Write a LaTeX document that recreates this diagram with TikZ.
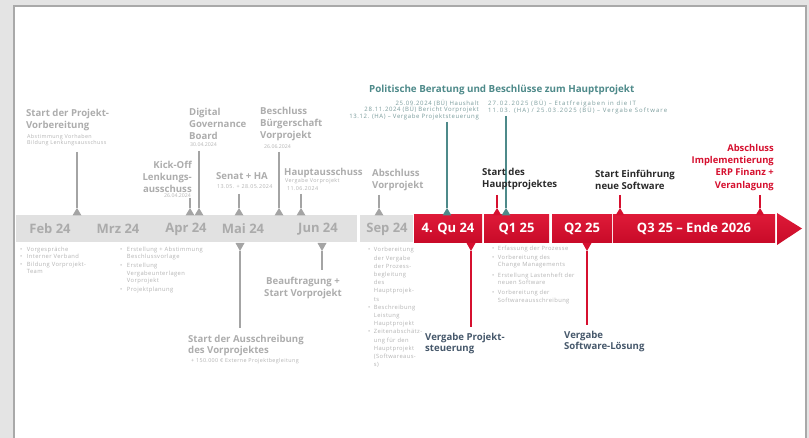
\documentclass[tikz,border=0pt]{standalone}
\usepackage{fontspec}
\setmainfont{Open Sans}
\newfontfamily\tinyfont[LetterSpace=7]{Open Sans}
\newfontfamily\tinymid[LetterSpace=10]{Open Sans}
\newfontfamily\tinywide[LetterSpace=18]{Open Sans}
\definecolor{bgc}{HTML}{E4E4E4}
\definecolor{framec}{HTML}{A9A9A9}
\definecolor{lblgray}{HTML}{ADADAD}
\definecolor{smlgray}{HTML}{B4B4B4}
\definecolor{linegray}{HTML}{A4A4A4}
\definecolor{barg}{HTML}{E1E1E1}
\definecolor{bartext}{HTML}{ABABAB}
\definecolor{tealc}{HTML}{4E8A8A}
\definecolor{tealsm}{HTML}{7A9C9C}
\definecolor{redc}{HTML}{D6102F}
\definecolor{redtop}{HTML}{DE1A38}
\definecolor{redbot}{HTML}{C80A28}
\definecolor{darkc}{HTML}{2A2A2A}
\definecolor{slatec}{HTML}{46586B}
\newcommand{\fsz}[2]{\fontsize{#1}{#2}\selectfont}
\tikzset{
  lbl/.style={inner sep=0pt, font=\fsz{9.6}{12}\bfseries, text=lblgray, align=left},
  sml/.style={inner sep=0pt, font=\tinyfont\fsz{5.4}{6}, text=smlgray, align=left},
  bl/.style={inner sep=0pt, font=\tinyfont\fsz{5.8}{7.5}, text=smlgray},
  barlbl/.style={inner sep=0pt, font=\fsz{13}{15}\bfseries, text=bartext},
  redbox/.style={inner sep=0pt, top color=redtop, bottom color=redbot, text=white, font=\fsz{13}{15}\bfseries, minimum height=28pt},
  graybox/.style={inner sep=0pt, fill=barg, minimum height=27pt},
}
\begin{document}
\begin{tikzpicture}[x=1pt,y=-1pt]
\useasboundingbox (0,0) rectangle (809,438);
\fill[bgc] (0,0) rectangle (809,438);
\draw[fill=white, draw=framec, line width=2pt] (14,6) rectangle (806,470);

% ---- timeline bar
\node[graybox, minimum width=341pt] (past) at (186.5,228.5) {};
\node[graybox, minimum width=53pt] (sep) at (386.5,228.5) {};
\node[barlbl] (lfeb) at (50,229) {Feb 24};
\node[barlbl] (lmrz) at (118,229) {Mrz 24};
\node[barlbl] (lapr) at (186,229) {Apr 24};
\node[barlbl] (lmai) at (243,229) {Mai 24};
\node[barlbl] (ljun) at (318,229) {Jun 24};
\node[barlbl] (lsep) at (387,229) {Sep 24};
\node[redbox, minimum width=68pt] (q4) at (448,229) {4. Qu 24};
\node[redbox, minimum width=65pt] (q1) at (516.5,229) {Q1 25};
\node[redbox, minimum width=60pt] (q2) at (582,229) {Q2 25};
\node[redbox, minimum width=162pt] (q3) at (694,229) {Q3 25 – Ende 2026};
\coordinate (arA) at (777,213);
\coordinate (arB) at (802,228.5);
\coordinate (arC) at (777,245);
\shade[top color=redtop, bottom color=redbot] (arA) -- (arB) -- (arC) -- cycle;

% ---- markers above the bar
\foreach \n/\x/\yt/\c in {mA/77/152/linegray, mB/190/198/linegray, mC/199/151/linegray,
  mD/239/194/linegray, mE/279/152/linegray, mF/301/194/linegray, mG/379/195/linegray,
  mH/447/122/tealc, mI/506/116/tealc, mJ/497/195/redc, mK/620/195/redc, mL/760/195/redc}
{
  \coordinate (\n t) at (\x,\yt);
  \coordinate (\n) at (\x,208);
  \draw[line width=1.4pt, draw=\c] (\n t) -- (\n);
  \fill[\c] (\n) -- ++(-4.5,7.5) -- ++(9,0) -- cycle;
}
% ---- markers below the bar
\foreach \n/\x/\yb/\c in {dA/240/328/linegray, dB/322/270/linegray, dC/471/327/redc, dD/587/325/redc}
{
  \coordinate (\n) at (\x,251);
  \coordinate (\n b) at (\x,\yb);
  \draw[line width=1.4pt, draw=\c] (\n) -- (\n b);
  \fill[\c] (\n) -- ++(-4.5,-8) -- ++(9,0) -- cycle;
}

% ---- labels above
\node[lbl, anchor=north west] (tA) at (26,109) {Start der Projekt-\\Vorbereitung};
\node[sml, anchor=north west] (sA) at (27,134.5) {Abstimmung Vorhaben\\Bildung Lenkungsausschuss};
\node[lbl, anchor=north east, align=right] (tB) at (192,160.5) {Kick-Off\\Lenkungs-\\ausschuss};
\node[sml, anchor=north east, align=right, font=\fsz{5.2}{6}] (sB) at (191,193.5) {26.04.2024};
\node[lbl, anchor=north west] (tC) at (189,108.5) {Digital\\Governance\\Board};
\node[sml, anchor=north west, font=\fsz{5.2}{6}] (sC) at (190,142.5) {30.04.2024};
\node[lbl, anchor=north west] (tD) at (216,172.5) {Senat + HA};
\node[sml, anchor=north west] (sD) at (217,184.5) {13.05. + 28.05.2024};
\node[lbl, anchor=north west] (tE) at (260,107.5) {Beschluss\\Bürgerschaft\\Vorprojekt};
\node[sml, anchor=north west, font=\fsz{5.2}{6}] (sE) at (264,144.5) {26.06.2024};
\node[lbl, anchor=north west] (tF) at (284,168) {Hauptausschuss};
\node[sml, anchor=north west, font=\tinyfont\fsz{5.4}{8}] (sF) at (285,178.5) {Vergabe Vorprojekt\\\hspace*{2pt}11.06.2024};
\node[lbl, anchor=north west] (tG) at (372,169.5) {Abschluss\\Vorprojekt};

\node[anchor=north west, inner sep=0pt, font=\fsz{9.8}{12}\bfseries, text=tealc] (tP) at (369,84.5) {Politische Beratung und Beschlüsse zum Hauptprojekt};
\node[sml, anchor=north east, align=right, text=tealsm, font=\tinymid\fsz{6}{6.6}] (sP1) at (479,99.5) {25.09.2024 (BÜ) Haushalt\\28.11.2024 (BÜ) Bericht Vorprojekt\\13.12. (HA) – Vergabe Projektsteuerung};
\node[sml, anchor=north west, text=tealsm, font=\tinywide\fsz{6}{6.6}] (sP2) at (488,99.5) {27.02.2025 (BÜ) – Etatfreigaben in die IT\\11.03. (HA) / 25.03.2025 (BÜ) – Vergabe Software};

\node[lbl, text=darkc, anchor=north west] (tJ) at (482,168.5) {Start des\\Hauptprojektes};
\node[lbl, text=darkc, anchor=north west] (tK) at (595,169.5) {Start Einführung\\neue Software};
\node[lbl, text=redc, anchor=north east, align=right, font=\fsz{9.4}{12.3}\bfseries] (tL) at (774,144) {Abschluss\\Implementierung\\ERP Finanz +\\Veranlagung};

% ---- labels below
\node[lbl, anchor=north west, font=\fsz{9.6}{11}\bfseries] (tdA) at (188,335) {Start der Ausschreibung\\des Vorprojektes};
\node[sml, anchor=north west] (sdA) at (191,358.5) {+ 150.000 € Externe Projektbegleitung};
\node[lbl, anchor=north, align=center] (tdB) at (303,276.5) {Beauftragung +\\Start Vorprojekt};
\node[lbl, text=slatec, anchor=north west, font=\fsz{9.6}{11.5}\bfseries] (tdC) at (425,333) {Vergabe Projekt-\\steuerung};
\node[lbl, text=slatec, anchor=north west, font=\fsz{9.6}{11.5}\bfseries] (tdD) at (564,331) {Vergabe\\Software-Lösung};

% ---- bullet lists
\node[bl, anchor=north west] (bFeb) at (20,246) {\begin{tabular}{@{}l@{\hspace{4.5pt}}l@{}}
•&Vorgespräche\\ •&Interner Verband\\ •&Bildung Vorprojekt-\\ &Team\end{tabular}};
\node[bl, anchor=north west] (bMrz) at (120,246) {\begin{tabular}{@{}l@{\hspace{4.5pt}}l@{}}
•&Erstellung + Abstimmung\\ &Beschlussvorlage\\[1.5pt] •&Erstellung\\ &Vergabeunterlagen\\ &Vorprojekt\\[1.5pt] •&Projektplanung\end{tabular}};
\node[bl, anchor=north west, font=\tinyfont\fsz{5.8}{8.2}] (bSep) at (368,246) {\begin{tabular}{@{}l@{\hspace{3.5pt}}l@{}}
•&Vorbereitung\\ &der Vergabe\\ &der Prozess-\\ &begleitung\\ &des\\ &Hauptprojek-\\ &ts\\ •&Beschreibung\\ &Leistung\\ &Hauptprojekt\\ •&Zeitenabschätz-\\ &ung für den\\ &Hauptprojekt\\ &(Softwareaus-\\ &s)\end{tabular}};
\node[bl, anchor=north west] (bQ1) at (492,245.5) {\begin{tabular}{@{}l@{\hspace{3.5pt}}l@{}}
•&Erfassung der Prozesse\\[1pt] •&Vorbereitung des\\ &Change Managements\\[3pt] •&Erstellung Lastenheft der\\ &neuen Software\\[2.5pt] •&Vorbereitung der\\ &Softwareausschreibung\end{tabular}};
\end{tikzpicture}
\end{document}
